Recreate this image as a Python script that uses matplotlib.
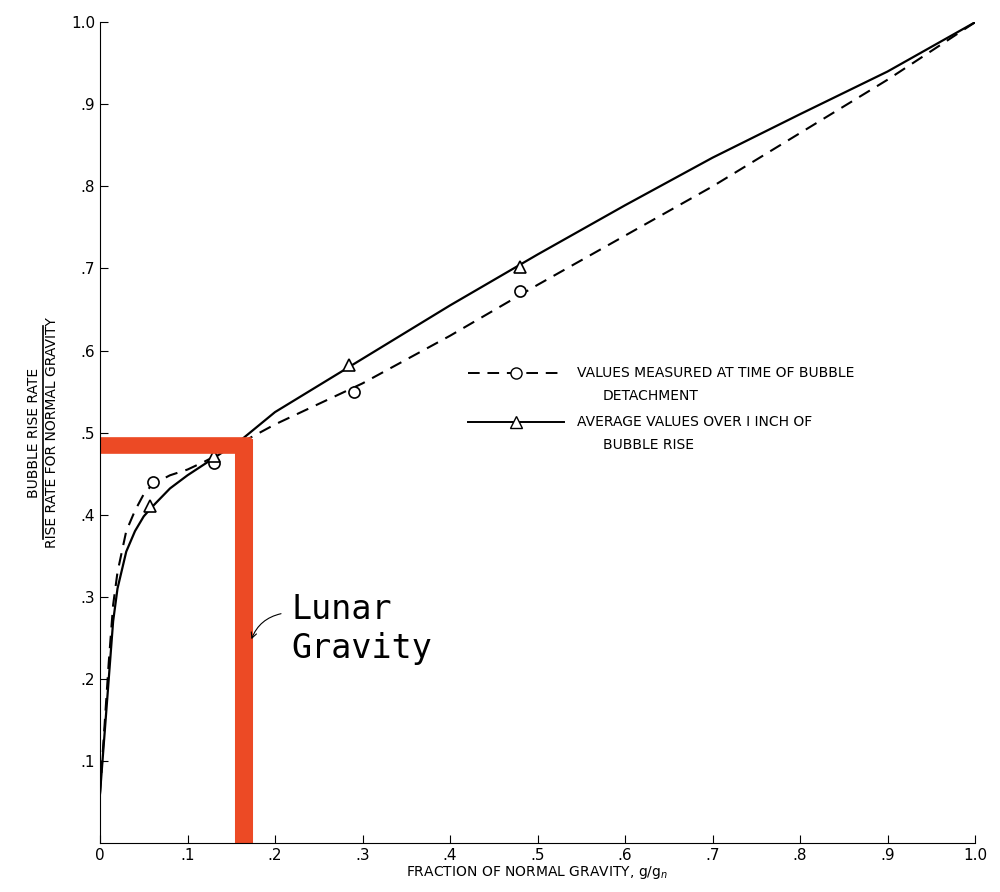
import numpy as np
import matplotlib
matplotlib.use("Agg")
import matplotlib.pyplot as plt

# measured points
circle_x = [0.06, 0.13, 0.29, 0.48]
circle_y = [0.44, 0.463, 0.55, 0.672]
tri_x = [0.057, 0.13, 0.285, 0.48]
tri_y = [0.41, 0.472, 0.582, 0.702]

# faired curves
dash_x = [0.0, 0.005, 0.01, 0.015, 0.02, 0.03, 0.04, 0.05, 0.06, 0.08, 0.1, 0.12, 0.16,
          0.2, 0.3, 0.4, 0.5, 0.6, 0.7, 0.8, 0.9, 1.0]
dash_y = [0.06, 0.14, 0.22, 0.29, 0.33, 0.38, 0.405, 0.425, 0.437, 0.448, 0.455, 0.465, 0.487,
          0.51, 0.56, 0.618, 0.68, 0.74, 0.80, 0.865, 0.93, 1.0]
solid_x = [0.0, 0.005, 0.01, 0.015, 0.02, 0.03, 0.04, 0.05, 0.06, 0.08, 0.1, 0.12, 0.16,
           0.2, 0.3, 0.4, 0.5, 0.6, 0.7, 0.8, 0.9, 1.0]
solid_y = [0.06, 0.13, 0.2, 0.27, 0.31, 0.355, 0.38, 0.398, 0.41, 0.432, 0.448, 0.462, 0.49,
           0.525, 0.59, 0.655, 0.717, 0.777, 0.835, 0.888, 0.94, 1.0]

lunar_g = 0.165
lunar_rate = 0.485

x_ticks = [0, .1, .2, .3, .4, .5, .6, .7, .8, .9, 1.0]
x_labels = ["0", ".1", ".2", ".3", ".4", ".5", ".6", ".7", ".8", ".9", "1.0"]
y_ticks = [.1, .2, .3, .4, .5, .6, .7, .8, .9, 1.0]
y_labels = [".1", ".2", ".3", ".4", ".5", ".6", ".7", ".8", ".9", "1.0"]

fig = plt.figure(figsize=(10, 8.92), dpi=100)
ax = fig.add_axes([0.1, 0.055, 0.875, 0.92])
ax.set_xlim(0, 1.0)
ax.set_ylim(0, 1.0)

ax.plot(dash_x, dash_y, "k--", lw=1.5, dashes=(6, 4))
ax.plot(solid_x, solid_y, "k-", lw=1.6)
ax.plot(circle_x, circle_y, "o", mfc="white", mec="k", ms=8, mew=1.2)
ax.plot(tri_x, tri_y, "^", mfc="white", mec="k", ms=8, mew=1.2)

# lunar gravity marker
red = "#ec4a25"
ax.plot([0, lunar_g + 0.008], [lunar_rate, lunar_rate], color=red, lw=12, solid_capstyle="butt")
ax.plot([lunar_g, lunar_g], [0, lunar_rate + 0.007], color=red, lw=13, solid_capstyle="butt")
ax.text(0.219, 0.225, "Lunar\nGravity", family="DejaVu Sans Mono", fontsize=24, linespacing=1.25)
ax.annotate("", xy=(0.172, 0.245), xytext=(0.21, 0.28),
            arrowprops=dict(arrowstyle="->", color="k", lw=0.8, connectionstyle="arc3,rad=0.3"))

# legend drawn as in the original
ax.plot([0.42, 0.53], [0.573, 0.573], "k--", lw=1.4, dashes=(6, 4))
ax.plot([0.475], [0.573], "o", mfc="white", mec="k", ms=8)
ax.text(0.545, 0.573, "VALUES MEASURED AT TIME OF BUBBLE", fontsize=10, va="center")
ax.text(0.575, 0.545, "DETACHMENT", fontsize=10, va="center")
ax.plot([0.42, 0.53], [0.513, 0.513], "k-", lw=1.4)
ax.plot([0.475], [0.513], "^", mfc="white", mec="k", ms=8)
ax.text(0.545, 0.513, "AVERAGE VALUES OVER I INCH OF", fontsize=10, va="center")
ax.text(0.575, 0.485, "BUBBLE RISE", fontsize=10, va="center")

ax.set_xticks(x_ticks)
ax.set_xticklabels(x_labels, fontsize=11)
ax.set_yticks(y_ticks)
ax.set_yticklabels(y_labels, fontsize=11)
ax.tick_params(direction="in", length=6)
ax.set_xlabel("FRACTION OF NORMAL GRAVITY, g/g$_n$", fontsize=10, labelpad=1)
ax.text(-0.075, 0.5, "BUBBLE RISE RATE", rotation=90, fontsize=10, ha="center", va="center",
        transform=ax.transAxes)
ax.text(-0.055, 0.5, "RISE RATE FOR NORMAL GRAVITY", rotation=90, fontsize=10, ha="center",
        va="center", transform=ax.transAxes)
ax.plot([-0.065, -0.065], [0.37, 0.63], color="k", lw=1.2, transform=ax.transAxes, clip_on=False)
for s in ["top", "right"]:
    ax.spines[s].set_visible(False)

fig.savefig("out.png", dpi=100)
